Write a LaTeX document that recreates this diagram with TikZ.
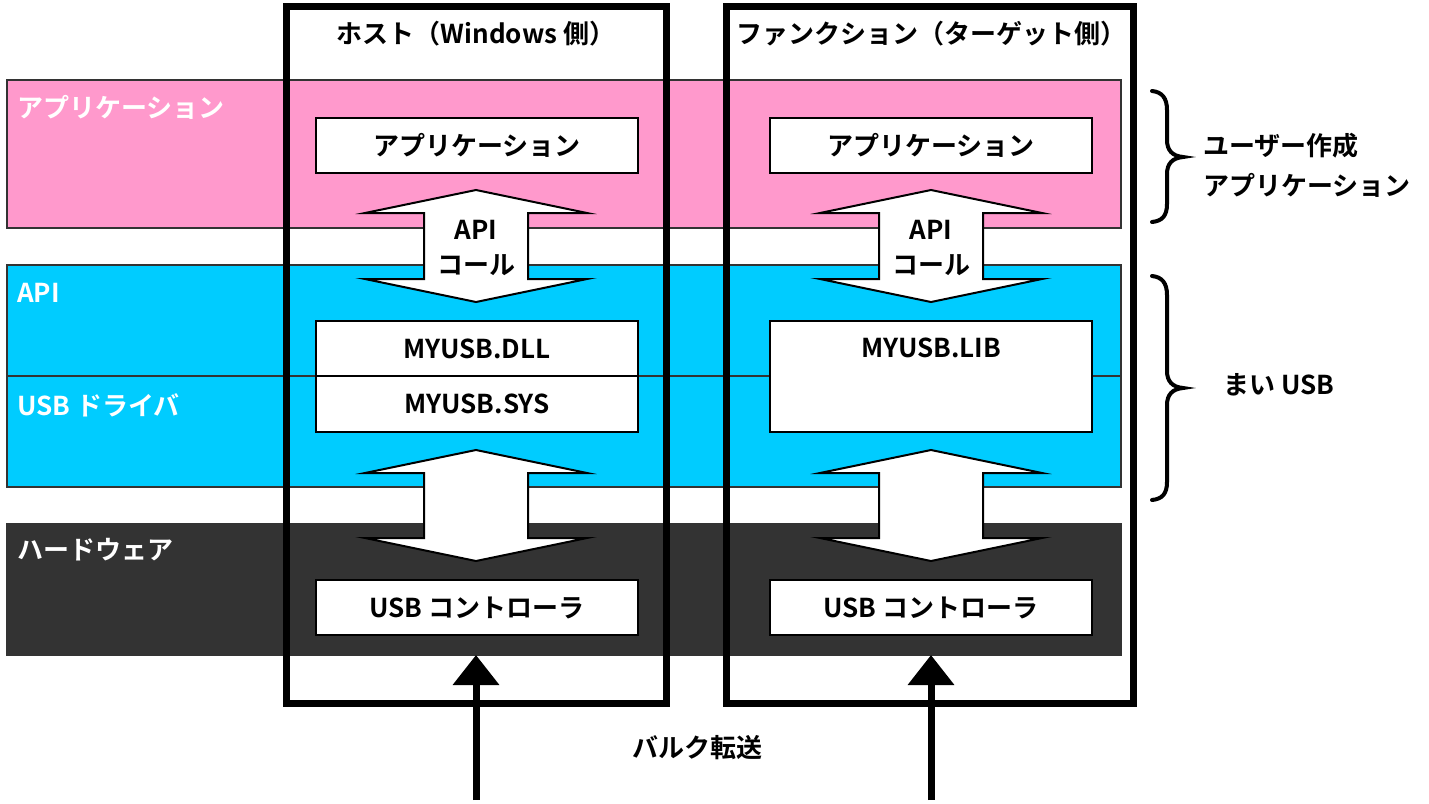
\documentclass[tikz,border=0pt]{standalone}
\usepackage{fontspec}
\setmainfont{Noto Sans CJK JP}[BoldFont={Noto Sans CJK JP Bold}]
\usetikzlibrary{arrows.meta}

\definecolor{apppink}{HTML}{FF99CC}
\definecolor{apicyan}{HTML}{00CCFF}
\definecolor{hwgray}{HTML}{333333}
\newcommand\jpbf{\fontsize{26}{35}\selectfont\bfseries}

\tikzset{
  band/.style={draw=hwgray, line width=1.5pt},
  sideframe/.style={draw=black, line width=7pt, line join=miter},
  box/.style={draw=black, fill=white, line width=2pt, inner sep=0pt,
              minimum width=322pt, minimum height=55pt, font=\jpbf},
  bandlbl/.style={anchor=west, text=white, inner sep=0pt, font=\jpbf},
  lbl/.style={inner sep=0pt, font=\jpbf},
  blockarrow/.style={draw=black, fill=white, line width=2pt, line join=miter},
  bulk/.style={line width=7pt, -{Triangle[width=45pt,length=30pt]}},
  brace/.style={line width=4pt, line cap=round},
}

\begin{document}
\begin{tikzpicture}[x=1pt, y=-1pt]
  % 中心 x, 上端, 下端
  \def\dblarrow#1#2#3{%
    \draw[blockarrow] (#1,#2) -- ++(111,23) -- ++(-59,0) -- (#1+52,#3-23)
      -- ++(59,0) -- (#1,#3) -- ++(-111,-23) -- ++(59,0) -- (#1-52,#2+23)
      -- ++(-59,0) -- cycle;}

  % ==== 層（帯）====
  \draw[band, fill=apppink] (7,80) rectangle (1121,228);
  \draw[band, fill=apicyan] (7,265) rectangle (1121,487);
  \draw[band] (7,376) -- (1121,376);
  \draw[band, fill=hwgray] (7,524) rectangle (1121,655);

  \node[bandlbl] (lblapp) at (17,107) {アプリケーション};
  \node[bandlbl] (lblapi) at (17,293) {API};
  \node[bandlbl] (lbldrv) at (17,405) {USB ドライバ};
  \node[bandlbl] (lblhw)  at (17,550) {ハードウェア};

  % ==== ホスト / ファンクションの枠 ====
  \draw[sideframe] (286,6) rectangle (666,703);
  \draw[sideframe] (726,6) rectangle (1133,703);
  \node[lbl] (hosttitle) at (476,34) {ホスト（Windows 側）};
  \node[lbl] (functitle) at (931,34) {ファンクション（ターゲット側）};

  % ==== 箱 ====
  \node[box] (hostapp) at (477,145.5) {アプリケーション};
  \node[box] (funcapp) at (931,145.5) {アプリケーション};
  \node[box] (hostdll) at (477,348.5) {MYUSB.DLL};
  \node[box, minimum height=56pt] (hostsys) at (477,404) {MYUSB.SYS};
  \node[box, minimum height=111pt,
        label={[lbl, anchor=center, yshift=-27.5pt]north:MYUSB.LIB}] (funclib) at (931,376.5) {};
  \node[box] (hostctl) at (477,607.5) {USB コントローラ};
  \node[box] (funcctl) at (931,607.5) {USB コントローラ};

  % ==== 両矢印 ====
  \dblarrow{476}{190}{302}
  \dblarrow{931}{190}{302}
  \dblarrow{476}{450}{561}
  \dblarrow{931}{450}{561}
  \node[lbl, align=center] (hostcall) at (476,247.5) {API\\コール};
  \node[lbl, align=center] (funccall) at (931,247.5) {API\\コール};

  % ==== バルク転送 ====
  \coordinate (hostin) at (476,800);
  \coordinate (hosttip) at (476,655);
  \coordinate (funcin) at (931,800);
  \coordinate (functip) at (931,655);
  \draw[bulk] (hostin) -- (hosttip);
  \draw[bulk] (funcin) -- (functip);
  \node[lbl] (bulktxt) at (697,748) {バルク転送};

  % ==== 中括弧 ====
  \draw[brace] (1152,91) .. controls (1162,92) and (1167,98) .. (1167,110)
     -- (1167,140) .. controls (1167,150) and (1172,156) .. (1183,157)
     .. controls (1172,158) and (1167,164) .. (1167,174)
     -- (1167,204) .. controls (1167,216) and (1162,221) .. (1152,222);
  \draw[brace] (1152,276) .. controls (1162,277) and (1167,283) .. (1167,295)
     -- (1167,371) .. controls (1167,381) and (1172,387) .. (1183,388)
     .. controls (1172,389) and (1167,395) .. (1167,405)
     -- (1167,482) .. controls (1167,494) and (1162,499) .. (1152,500);
  \node[lbl, anchor=west, align=left, font=\fontsize{26}{40}\selectfont\bfseries]
    (usertxt) at (1203,165) {ユーザー作成\\アプリケーション};
  \node[lbl, anchor=west] (myusbtxt) at (1223,385) {まい USB};

  \path[use as bounding box] (0,0) rectangle (1429,800);
\end{tikzpicture}
\end{document}
